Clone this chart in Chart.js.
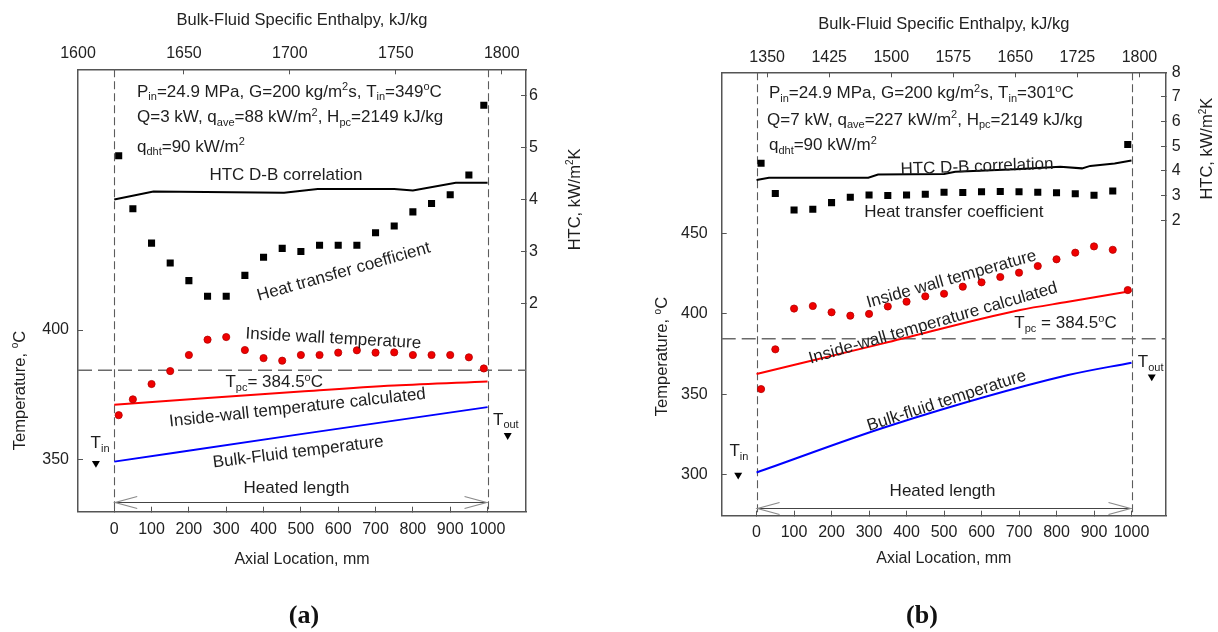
<!DOCTYPE html>
<html>
<head>
<meta charset="utf-8">
<script src="https://cdn.jsdelivr.net/npm/chart.js@4.4.0/dist/chart.umd.min.js"></script>
<style>
  html, body { margin: 0; padding: 0; background: #fff; }
  #wrap { position: relative; width: 1218px; height: 632px; overflow: hidden; }
  .panel { position: absolute; top: 0; width: 609px; height: 632px; }
  .tag { position: absolute; top: 600px; font: bold 26px "Liberation Serif", "Times New Roman", serif; color: #111; transform: translateX(-50%); }
</style>
</head>
<body>
<div id="wrap">
  <div class="panel" style="left:0"><canvas id="chartA" width="609" height="632"></canvas></div>
  <div class="panel" style="left:609px"><canvas id="chartB" width="609" height="632"></canvas></div>
  <div class="tag" style="left:304px">(a)</div>
  <div class="tag" style="left:922px">(b)</div>
</div>
<script>
// shared
const AXIAL_TICKS = [0, 100, 200, 300, 400, 500, 600, 700, 800, 900, 1000];
const T_PC = 384.5;
const HEATED = [0, 1000];

// (a) Q = 3 kW
const A_POS = [12, 50, 100, 150, 200, 250, 300, 350, 400, 450, 500, 550, 600, 650, 700, 750, 800, 850, 900, 950, 990];
const A_HTC = [4.84, 3.82, 3.16, 2.78, 2.44, 2.14, 2.14, 2.54, 2.89, 3.06, 3.00, 3.12, 3.12, 3.12, 3.36, 3.49, 3.76, 3.92, 4.09, 4.47, 5.81];
const A_WALL = [367.2, 373.3, 379.2, 384.2, 390.4, 396.3, 397.3, 392.3, 389.2, 388.2, 390.4, 390.4, 391.3, 392.2, 391.3, 391.4, 390.4, 390.4, 390.4, 389.5, 385.2];
const A_DB_POS = [0, 105, 455, 545, 750, 800, 915, 1000];
const A_DB = [4.00, 4.15, 4.13, 4.20, 4.20, 4.17, 4.32, 4.32];
const A_CALC_POS = [0, 250, 500, 750, 1000];
const A_CALC = [371.2, 373.8, 376.3, 378.6, 380.2];
const A_BULK_POS = [0, 500, 1000];
const A_BULK = [349.3, 359.9, 370.3];
const A_ENTH_AT = [1617.1, 1793.3];      // bulk enthalpy at 0 and 1000 mm
const A_ENTH_TICKS = [1600, 1650, 1700, 1750, 1800];
const A_TEMP_TICKS = [350, 400];
const A_HTC_TICKS = [2, 3, 4, 5, 6];
const A_X_RANGE = [-97, 1103];
const A_T_RANGE = [330, 500.5];
const A_HTC_RANGE = [-2, 6.5];
const A_INOUT_POS = [-49, 1054];
const A_INOUT_T = [348.7, 359.4];

// (b) Q = 7 kW
const B_POS = [12, 50, 100, 150, 200, 250, 300, 350, 400, 450, 500, 550, 600, 650, 700, 750, 800, 850, 900, 950, 990];
const B_HTC = [4.31, 3.08, 2.41, 2.44, 2.71, 2.93, 3.02, 3.00, 3.02, 3.05, 3.13, 3.12, 3.15, 3.16, 3.15, 3.13, 3.11, 3.07, 3.01, 3.18, 5.07];
const B_WALL = [353.3, 378.0, 403.3, 404.9, 401.0, 398.9, 400.0, 404.6, 407.6, 410.9, 412.5, 416.9, 419.6, 422.9, 425.6, 429.7, 433.9, 438.0, 441.9, 439.8, 414.8];
const B_DB_POS = [0, 33, 298, 324, 500, 530, 690, 810, 868, 890, 955, 1000];
const B_DB = [3.63, 3.72, 3.72, 3.85, 3.87, 3.96, 4.06, 4.17, 4.10, 4.20, 4.30, 4.42];
const B_CALC_POS = [0, 338, 703, 831, 1000];
const B_CALC = [362.7, 381.7, 402.4, 407.5, 414.2];
const B_BULK_POS = [0, 357, 831, 1000];
const B_BULK = [301.5, 330.7, 362.0, 369.7];
const B_ENTH_AT = [1337.2, 1790.4];
const B_ENTH_TICKS = [1350, 1425, 1500, 1575, 1650, 1725, 1800];
const B_TEMP_TICKS = [300, 350, 400, 450];
const B_HTC_TICKS = [2, 3, 4, 5, 6, 7, 8];
const B_X_RANGE = [-93, 1092];
const B_T_RANGE = [274.7, 550];
const B_HTC_RANGE = [-10, 8];
const B_INOUT_POS = [-49, 1054];
const B_INOUT_T = [300, 361];

Chart.defaults.font.family = '"Liberation Sans", Arial, sans-serif';
Chart.defaults.color = '#222';

const FONT = '"Liberation Sans", Arial, sans-serif';

// text with _{sub} and ^{sup} pieces
function richParts(str) {
  const parts = [];
  const re = /([_^])\{([^}]*)\}/g;
  let last = 0, m;
  while ((m = re.exec(str))) {
    if (m.index > last) parts.push({ s: str.slice(last, m.index), k: '' });
    parts.push({ s: m[2], k: m[1] === '_' ? 'sub' : 'sup' });
    last = re.lastIndex;
  }
  if (last < str.length) parts.push({ s: str.slice(last), k: '' });
  return parts;
}

function drawRich(ctx, str, x, y, opt) {
  const size = opt.size || 17;
  const small = Math.round(size * 0.62);
  const parts = richParts(str);
  const fontFor = k => (k ? small : size) + 'px ' + FONT;
  let w = 0;
  parts.forEach(p => { ctx.font = fontFor(p.k); p.w = ctx.measureText(p.s).width; w += p.w; });
  ctx.save();
  ctx.translate(x, y);
  if (opt.angle) ctx.rotate(opt.angle * Math.PI / 180);
  let cx = opt.align === 'left' ? 0 : -w / 2;
  ctx.textBaseline = 'middle';
  ctx.textAlign = 'left';
  ctx.fillStyle = opt.color || '#1e1e1e';
  parts.forEach(p => {
    ctx.font = fontFor(p.k);
    const dy = p.k === 'sub' ? size * 0.3 : p.k === 'sup' ? -size * 0.28 : 0;
    ctx.fillText(p.s, cx, dy);
    cx += p.w;
  });
  ctx.restore();
}

function makeDecor(cfg) {
  return {
    id: 'decor',
    beforeDatasetsDraw(chart) {
      const { ctx, chartArea: a } = chart;
      const x = chart.scales.x, y = chart.scales.y;
      const seg = (x0, y0, x1, y1) => { ctx.beginPath(); ctx.moveTo(x0, y0); ctx.lineTo(x1, y1); ctx.stroke(); };
      ctx.save();
      // heated section boundaries
      ctx.strokeStyle = '#5c5c5c';
      ctx.lineWidth = 1.1;
      ctx.setLineDash([8, 4]);
      HEATED.forEach(v => {
        const px = Math.round(x.getPixelForValue(v)) + 0.5;
        seg(px, a.top, px, a.bottom);
      });
      // pseudocritical temperature
      ctx.strokeStyle = '#6a6a6a';
      ctx.lineWidth = 1.5;
      ctx.setLineDash([14, 6]);
      const py = y.getPixelForValue(T_PC);
      seg(a.left, py, a.right, py);
      // heated length arrow
      ctx.setLineDash([]);
      const ay = Math.round(y.getPixelForValue(cfg.arrowT)) + 0.5;
      const x0 = x.getPixelForValue(HEATED[0]), x1 = x.getPixelForValue(HEATED[1]);
      ctx.strokeStyle = '#444';
      ctx.lineWidth = 1;
      seg(x0, ay, x1, ay);
      ctx.strokeStyle = '#8a8a8a';
      ctx.lineWidth = 1.2;
      ctx.beginPath(); ctx.moveTo(x0 + 23, ay - 6); ctx.lineTo(x0 + 1, ay); ctx.lineTo(x0 + 23, ay + 6); ctx.stroke();
      ctx.beginPath(); ctx.moveTo(x1 - 23, ay - 6); ctx.lineTo(x1 - 1, ay); ctx.lineTo(x1 - 23, ay + 6); ctx.stroke();
      ctx.restore();
    },
    afterDatasetsDraw(chart) {
      const { ctx } = chart;
      const x = chart.scales.x, y = chart.scales.y, yh = chart.scales.yHtc;
      cfg.notes.forEach(n => {
        drawRich(ctx, n.t, x.getPixelForValue(n.x), y.getPixelForValue(n.y), n);
      });
      // side axis titles
      drawRich(ctx, 'Temperature, ^{o}C', cfg.leftTitle[0], y.getPixelForValue(cfg.leftTitle[1]), { angle: -90, size: 16.5 });
      drawRich(ctx, 'HTC, kW/m^{2}K', cfg.rightTitle[0], yh.getPixelForValue(cfg.rightTitle[1]), { angle: -90, size: 16.5 });
    }
  };
}

function buildPanel(id, p) {
  const toEnth = v => p.enthAt[0] + (p.enthAt[1] - p.enthAt[0]) * v / 1000;
  const pts = (xs, ys) => xs.map((x, i) => ({ x, y: ys[i] }));
  const setTicks = list => s => { s.ticks = list.map(v => ({ value: v })); };
  const fit = (w, h) => s => {
    if (w != null) s.width = w;
    if (h != null) s.height = h;
    s.paddingLeft = s.paddingRight = s.paddingTop = s.paddingBottom = 0;
  };
  const inward = { display: true, drawOnChartArea: false, drawTicks: true, tickLength: -5, color: '#555', lineWidth: 1 };
  const box = { display: true, color: '#555', width: 1.5 };
  const tickFont = { size: 16 };
  const plain = v => String(v);

  return new Chart(document.getElementById(id), {
    type: 'scatter',
    data: {
      datasets: [
        { label: 'Heat transfer coefficient', data: pts(p.pos, p.htc), yAxisID: 'yHtc',
          pointStyle: 'rect', pointRadius: 5, backgroundColor: '#000', borderWidth: 0 },
        { label: 'Inside wall temperature', data: pts(p.pos, p.wall), yAxisID: 'y',
          pointStyle: 'circle', pointRadius: 3.6, backgroundColor: '#f00000', borderColor: '#b40000', borderWidth: 0.8 },
        { label: 'HTC D-B correlation', data: pts(p.dbPos, p.db), yAxisID: 'yHtc', showLine: true,
          borderColor: '#000', borderWidth: 2, pointRadius: 0, tension: 0 },
        { label: 'Inside-wall temperature calculated', data: pts(p.calcPos, p.calc), yAxisID: 'y', showLine: true,
          borderColor: '#ff0000', borderWidth: 2, pointRadius: 0, cubicInterpolationMode: 'monotone' },
        { label: 'Bulk-fluid temperature', data: pts(p.bulkPos, p.bulk), yAxisID: 'y', showLine: true,
          borderColor: '#0000ff', borderWidth: 2, pointRadius: 0, cubicInterpolationMode: 'monotone' },
        { label: 'Tin / Tout', data: pts(p.ioPos, p.ioT), yAxisID: 'y',
          pointStyle: 'triangle', rotation: 180, pointRadius: 4.6, backgroundColor: '#000', borderWidth: 0 }
      ]
    },
    options: {
      responsive: false,
      animation: false,
      devicePixelRatio: 1,
      layout: { padding: 0 },
      plugins: { legend: { display: false }, tooltip: { enabled: false } },
      scales: {
        x: {
          type: 'linear', position: 'bottom', min: p.xRange[0], max: p.xRange[1],
          afterBuildTicks: setTicks(AXIAL_TICKS), afterFit: fit(null, p.box.bottom),
          grid: inward, border: box,
          ticks: { font: tickFont, padding: p.pad.bottom, maxRotation: 0, autoSkip: false, callback: plain },
          title: { display: true, text: 'Axial Location, mm', font: { size: 16 }, color: '#222',
                   padding: { top: 0, bottom: p.titlePad.bottom } }
        },
        xTop: {
          type: 'linear', position: 'top', min: toEnth(p.xRange[0]), max: toEnth(p.xRange[1]),
          afterBuildTicks: setTicks(p.enthTicks), afterFit: fit(null, p.box.top),
          grid: inward, border: box,
          ticks: { font: tickFont, padding: p.pad.top, maxRotation: 0, autoSkip: false, callback: plain },
          title: { display: true, text: 'Bulk-Fluid Specific Enthalpy, kJ/kg', font: { size: 16.5 }, color: '#222',
                   padding: { top: p.titlePad.top, bottom: 0 } }
        },
        y: {
          type: 'linear', position: 'left', min: p.tRange[0], max: p.tRange[1],
          afterBuildTicks: setTicks(p.tempTicks), afterFit: fit(p.box.left, null),
          grid: inward, border: box,
          ticks: { font: tickFont, padding: p.pad.left, callback: plain }
        },
        yHtc: {
          type: 'linear', position: 'right', min: p.htcRange[0], max: p.htcRange[1],
          afterBuildTicks: setTicks(p.htcTicks), afterFit: fit(p.box.right, null),
          grid: inward, border: box,
          ticks: { font: tickFont, padding: p.pad.right, callback: plain }
        }
      }
    },
    plugins: [makeDecor(p.decor)]
  });
}

buildPanel('chartA', {
  pos: A_POS, htc: A_HTC, wall: A_WALL,
  dbPos: A_DB_POS, db: A_DB, calcPos: A_CALC_POS, calc: A_CALC, bulkPos: A_BULK_POS, bulk: A_BULK,
  ioPos: A_INOUT_POS, ioT: A_INOUT_T,
  enthAt: A_ENTH_AT, enthTicks: A_ENTH_TICKS, tempTicks: A_TEMP_TICKS, htcTicks: A_HTC_TICKS,
  xRange: A_X_RANGE, tRange: A_T_RANGE, htcRange: A_HTC_RANGE,
  box: { left: 78, right: 83, top: 69.3, bottom: 120.3 },
  pad: { left: 14, right: 8, top: 11.4, bottom: 13 },
  titlePad: { top: 10.5, bottom: 62.4 },
  decor: {
    arrowT: 333.9,
    leftTitle: [20, 376.7],
    rightTitle: [575, 4.0],
    notes: [
      { t: 'P_{in}=24.9 MPa, G=200 kg/m^{2}s, T_{in}=349^{o}C', x: 61, y: 491.8, align: 'left' },
      { t: 'Q=3 kW, q_{ave}=88 kW/m^{2}, H_{pc}=2149 kJ/kg', x: 61, y: 481.9, align: 'left' },
      { t: 'q_{dht}=90 kW/m^{2}', x: 61, y: 470.6, align: 'left' },
      { t: 'HTC D-B correlation', x: 460, y: 459.7 },
      { t: 'Heat transfer coefficient', x: 615, y: 422.4, angle: -15.8 },
      { t: 'Inside wall temperature', x: 587, y: 396.7, angle: 3.2 },
      { t: 'T_{pc}= 384.5^{o}C', x: 428.6, y: 379.7 },
      { t: 'Inside-wall temperature calculated', x: 491, y: 370, angle: -6.2 },
      { t: 'Bulk-Fluid temperature', x: 493, y: 352.9, angle: -7.1 },
      { t: 'Heated length', x: 488, y: 339.2 },
      { t: 'T_{in}', x: -38, y: 356.2 },
      { t: 'T_{out}', x: 1049, y: 365.2 }
    ]
  }
});

buildPanel('chartB', {
  pos: B_POS, htc: B_HTC, wall: B_WALL,
  dbPos: B_DB_POS, db: B_DB, calcPos: B_CALC_POS, calc: B_CALC, bulkPos: B_BULK_POS, bulk: B_BULK,
  ioPos: B_INOUT_POS, ioT: B_INOUT_T,
  enthAt: B_ENTH_AT, enthTicks: B_ENTH_TICKS, tempTicks: B_TEMP_TICKS, htcTicks: B_HTC_TICKS,
  xRange: B_X_RANGE, tRange: B_T_RANGE, htcRange: B_HTC_RANGE,
  box: { left: 112.7, right: 52, top: 72.3, bottom: 116.3 },
  pad: { left: 19, right: 10.7, top: 10.2, bottom: 12.7 },
  titlePad: { top: 14.8, bottom: 64.1 },
  decor: {
    arrowT: 279.7,
    leftTitle: [53.6, 373.5],
    rightTitle: [598.7, 4.9],
    notes: [
      { t: 'P_{in}=24.9 MPa, G=200 kg/m^{2}s, T_{in}=301^{o}C', x: 33, y: 536.9, align: 'left' },
      { t: 'Q=7 kW, q_{ave}=227 kW/m^{2}, H_{pc}=2149 kJ/kg', x: 28, y: 520.3, align: 'left' },
      { t: 'q_{dht}=90 kW/m^{2}', x: 33, y: 504.4, align: 'left' },
      { t: 'HTC D-B correlation', x: 588, y: 491.3, angle: -2 },
      { t: 'Heat transfer coefficient', x: 526, y: 462.8 },
      { t: 'Inside wall temperature', x: 520, y: 421.5, angle: -15.8 },
      { t: 'Inside-wall temperature calculated', x: 471, y: 394.1, angle: -16.1 },
      { t: 'T_{pc} = 384.5^{o}C', x: 824, y: 394.1 },
      { t: 'Bulk-fluid temperature', x: 507, y: 346, angle: -17.9 },
      { t: 'Heated length', x: 496, y: 289.6 },
      { t: 'T_{in}', x: -47, y: 314.4 },
      { t: 'T_{out}', x: 1051, y: 369.7 }
    ]
  }
});
</script>
</body>
</html>
